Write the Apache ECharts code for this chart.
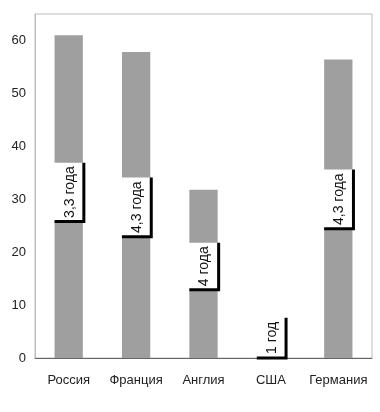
<!DOCTYPE html>
<html><head><meta charset="utf-8">
<script src="https://cdn.jsdelivr.net/npm/echarts@6/dist/echarts.min.js"></script>
<style>html,body{margin:0;padding:0;background:#fff}#c{width:380px;height:412px}</style>
</head><body><div id="c"></div>
<script>
var categories = ['Россия', 'Франция', 'Англия', 'США', 'Германия'];
var totals = [61, 57.8, 31.8, 0.4, 56.4];
var gapStart = [25.8, 22.9, 12.9, 0, 24.4];
var gapEnd = [36.9, 34.1, 21.8, 7.6, 35.6];
var gapLabels = ['3,3 года', '4,3 года', '4 года', '1 год', '4,3 года'];
var yTicks = [0, 10, 20, 30, 40, 50, 60];

var BAR_FRAC = 0.42;
var boxData = categories.map(function (c, i) { return [i, gapStart[i], gapEnd[i], gapLabels[i]]; });

var chart = echarts.init(document.getElementById('c'));
chart.setOption({
  animation: false,
  backgroundColor: '#fff',
  textStyle: { fontFamily: 'Liberation Sans, Arial, sans-serif' },
  grid: { left: 35, right: 8, top: 14, bottom: 54, show: true, borderColor: '#bdbdbd', borderWidth: 1, backgroundColor: 'transparent' },
  xAxis: {
    type: 'category', data: categories,
    axisLine: { lineStyle: { color: '#666', width: 1 } },
    axisTick: { show: false },
    axisLabel: { color: '#222', fontSize: 13, margin: 16, interval: 0 }
  },
  yAxis: {
    type: 'value', min: 0, max: 65, interval: 10,
    axisLine: { show: true, lineStyle: { color: '#bdbdbd' } },
    axisTick: { show: false },
    splitLine: { show: false },
    axisLabel: { color: '#222', fontSize: 13, margin: 9,
      formatter: function (v) { return yTicks.indexOf(v) >= 0 ? String(v) : ''; } }
  },
  series: [
    { type: 'bar', data: totals, barWidth: (BAR_FRAC * 100) + '%', itemStyle: { color: '#9f9f9f' }, z: 2 },
    {
      type: 'custom', data: boxData, z: 5,
      renderItem: function (params, api) {
        var idx = api.value(0);
        var pBot = api.coord([idx, api.value(1)]);
        var pTop = api.coord([idx, api.value(2)]);
        var w = api.size([1, 0])[0] * BAR_FRAC;
        var x0 = pBot[0] - w / 2, x1 = pBot[0] + w / 2;
        var y0 = pBot[1], y1 = pTop[1];
        return {
          type: 'group',
          children: [
            { type: 'rect', shape: { x: x0 - 1, y: y1, width: w + 2, height: y0 - y1 }, style: { fill: '#fff' } },
            { type: 'polyline', shape: { points: [[x0, y0], [x1 + 1, y0], [x1 + 1, y1]] }, style: { stroke: '#000', lineWidth: 3, fill: null } },
            { type: 'text', x: (x0 + x1) / 2 + 1, y: (y0 + y1) / 2, rotation: Math.PI / 2,
              style: { text: gapLabels[params.dataIndex], fill: '#111', fontSize: 14, fontFamily: 'Liberation Sans, Arial, sans-serif', align: 'center', verticalAlign: 'middle' } }
          ]
        };
      }
    }
  ]
});
</script></body></html>
